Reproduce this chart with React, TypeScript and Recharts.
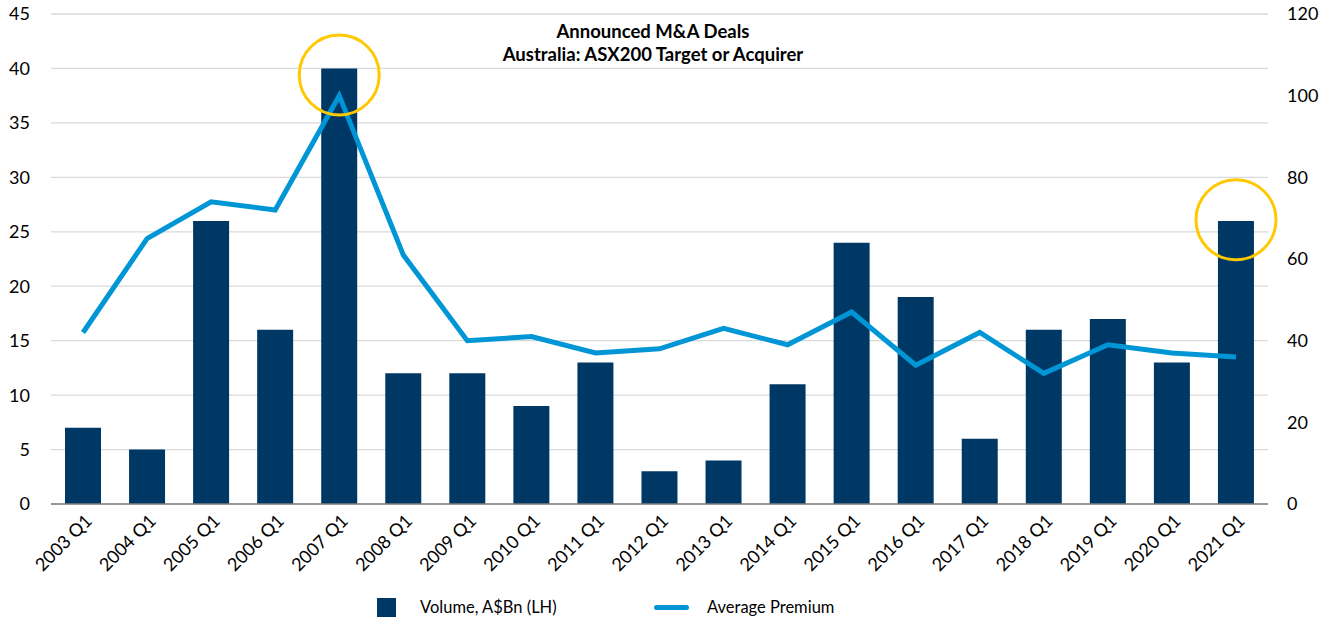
import { ComposedChart, Bar, Line, XAxis, YAxis, CartesianGrid, ReferenceDot } from 'recharts';

const quarters = [
    '2003 Q1', '2004 Q1', '2005 Q1', '2006 Q1', '2007 Q1', '2008 Q1', '2009 Q1', '2010 Q1',
    '2011 Q1', '2012 Q1', '2013 Q1', '2014 Q1', '2015 Q1', '2016 Q1', '2017 Q1', '2018 Q1',
    '2019 Q1', '2020 Q1', '2021 Q1',
];
const volume = [7, 5, 26, 16, 40, 12, 12, 9, 13, 3, 4, 11, 24, 19, 6, 16, 17, 13, 26];
const premium = [42, 65, 74, 72, 100, 61, 40, 41, 37, 38, 43, 39, 47, 34, 42, 32, 39, 37, 36];
const leftTicks = [0, 5, 10, 15, 20, 25, 30, 35, 40, 45];
const rightTicks = [0, 20, 40, 60, 80, 100, 120];
const highlights = [
    { quarter: '2007 Q1', level: 39.4 },
    { quarter: '2021 Q1', level: 26.1 },
];

const data = quarters.map((q, i) => ({ quarter: q, volume: volume[i], premium: premium[i] }));

const FONT = 'Lato, sans-serif';
const NAVY = '#003865';
const BLUE = '#0096D6';
const GOLD = '#FFC800';

function QuarterTick({ x, y, payload }: any) {
    const ax = x + 10;
    const ay = y + 16;
    return (
        <text x={ax} y={ay} textAnchor="end" fontSize={18} fontFamily={FONT} fill="#000"
            transform={`rotate(-45, ${ax}, ${ay})`}>
            {payload.value}
        </text>
    );
}

export default function App() {
    return (
        <div style={{ position: 'absolute', left: 0, top: 0, width: 1333, height: 618, background: '#fff', fontFamily: FONT }}>
            <ComposedChart width={1333} height={618} data={data} margin={{ top: 14, right: 0, left: 0, bottom: 0 }}>
                <CartesianGrid yAxisId="left" vertical={false} stroke="#D9D9D9" strokeWidth={1.3} />
                <XAxis dataKey="quarter" height={114} interval={0} tickLine={false} tickSize={0}
                    axisLine={{ stroke: '#7F7F7F', strokeWidth: 1.5 }} tick={<QuarterTick />} />
                <YAxis yAxisId="left" width={51} domain={[0, 45]} ticks={leftTicks} axisLine={false}
                    tickLine={false} tickSize={0} tickMargin={21} tick={{ fontSize: 18, fill: '#000', fontFamily: FONT }} />
                <YAxis yAxisId="right" orientation="right" width={65} domain={[0, 120]} ticks={rightTicks}
                    axisLine={false} tickLine={false} tickSize={0} tickMargin={19}
                    tick={{ fontSize: 18, fill: '#000', fontFamily: FONT, textAnchor: 'start' }} />
                <Bar yAxisId="left" dataKey="volume" fill={NAVY} barSize={36} isAnimationActive={false} />
                <Line yAxisId="right" type="linear" dataKey="premium" stroke={BLUE} strokeWidth={5}
                    dot={false} activeDot={false} isAnimationActive={false} />
                {highlights.map((h) => (
                    <ReferenceDot key={h.quarter} yAxisId="left" x={h.quarter} y={h.level} r={40}
                        fill="none" stroke={GOLD} strokeWidth={3} ifOverflow="visible" />
                ))}
            </ComposedChart>
            <div style={{ position: 'absolute', top: 20, left: 0, width: 1306, textAlign: 'center', fontWeight: 700, fontSize: 18.5, lineHeight: '22.5px', color: '#000' }}>
                <div>Announced M&amp;A Deals</div>
                <div>Australia: ASX200 Target or Acquirer</div>
            </div>
            <span style={{ position: 'absolute', left: 377, top: 598, width: 19, height: 19, background: NAVY }} />
            <span style={{ position: 'absolute', left: 420, top: 597, fontSize: 16.5, lineHeight: '20px', color: '#000' }}>Volume, A$Bn (LH)</span>
            <span style={{ position: 'absolute', left: 654, top: 605, width: 35, height: 5, background: BLUE, borderRadius: 3 }} />
            <span style={{ position: 'absolute', left: 707, top: 597, fontSize: 16.5, lineHeight: '20px', color: '#000' }}>Average Premium</span>
        </div>
    );
}
